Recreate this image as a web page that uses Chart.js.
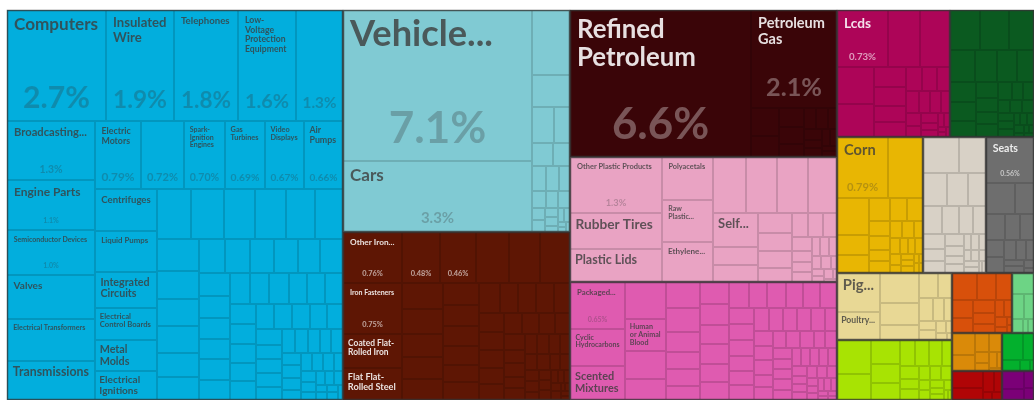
<!DOCTYPE html>
<html>
<head>
<meta charset="utf-8">
<script src="https://cdn.jsdelivr.net/npm/chart.js@4.4.1/dist/chart.umd.min.js"></script>
<style>
html,body{margin:0;padding:0;background:#fff;}
#wrap{width:1034px;height:400px;}
</style>
</head>
<body>
<div id="wrap"><canvas id="c" width="1034" height="400"></canvas></div>
<script>
// ---------- DATA (share of total, %) ----------
const sectorNames = ['Machines','Transportation','Metals','Mineral Products','Plastics and Rubbers','Chemical Products','Instruments','Textiles','Vegetable Products','Stone and Glass','Miscellaneous','Animal Products','Foodstuffs','Wood Products','Paper Goods','Footwear and Headwear','Arms and Ammunition','Animal Hides','Precious Metals'];
const sectorColors = ['#02aedd','#80cad3','#5e1604','#3a0508','#e9a3c3','#df5bb0','#ad0558','#0b5a20','#e8b603','#d8d1c6','#6e6e6e','#e8d895','#a8e303','#d8500b','#6dd485','#da8a09','#b00506','#03b02d','#7b0077'];

const machines = [2.74,1.88,1.78,1.60,1.30,1.30,1.10,1.00,0.96,0.92,0.86,0.79,0.72,0.70,0.69,0.67,0.66,0.64,0.63,0.55,0.50,0.48,0.44,0.43,0.42,0.39,0.38,0.37,0.35,0.33,0.30,0.28,0.28,0.26,0.24,0.22,0.21,0.21,0.20,0.19,0.19,0.18,0.17,0.17,0.16,0.16,0.16,0.15,0.15,0.15,0.14,0.14,0.14,0.13,0.13,0.12,0.12,0.12,0.11,0.11,0.11,0.10,0.10,0.10,0.09,0.09,0.09,0.08,0.08,0.08,0.07,0.07,0.07,0.06,0.06,0.06,0.05,0.05,0.05,0.05,0.04,0.04,0.04,0.03,0.03,0.03,0.03,0.02,0.02,0.02,0.02,0.02];
const machinesLabels = ['Computers','Insulated Wire','Telephones','Low-Voltage Protection Equipment','','Broadcasting...','Engine Parts','Semiconductor Devices','Valves','Electrical Transformers','Transmissions','Electric Motors','','Spark-Ignition Engines','Gas Turbines','Video Displays','Air Pumps','Centrifuges','Liquid Pumps','Integrated Circuits','Electrical Control Boards','Metal Molds','Electrical Ignitions'];

const transport = [7.14,3.34,0.62,0.31,0.20,0.14,0.12,0.10,0.09,0.08,0.07,0.06,0.05,0.05,0.04,0.04,0.03,0.03,0.02,0.02,0.02,0.01,0.01,0.01];
const transportLabels = ['Vehicle...','Cars'];

const metals = [0.76,0.75,0.52,0.47,0.48,0.46,0.41,0.40,0.38,0.26,0.25,0.24,0.22,0.21,0.20,0.19,0.18,0.17,0.16,0.16,0.15,0.14,0.13,0.13,0.12,0.12,0.11,0.11,0.10,0.10,0.10,0.09,0.09,0.08,0.08,0.07,0.07,0.06,0.06,0.06,0.06,0.05,0.05,0.05,0.05,0.04,0.04,0.04,0.04,0.03,0.03,0.03,0.03,0.02,0.02,0.02,0.02,0.02,0.01,0.01,0.01,0.01];
const metalsLabels = ['Other Iron...','Iron Fasteners','Coated Flat-Rolled Iron','Flat Flat-Rolled Steel','',''];

const mineral = [6.64,2.10,0.20,0.15,0.12,0.10,0.08,0.07,0.06,0.05,0.05,0.04,0.04,0.03,0.03,0.02,0.02];
const mineralLabels = ['Refined Petroleum','Petroleum Gas'];

const plastics = [1.29,0.83,0.76,0.55,0.53,0.51,0.46,0.44,0.42,0.41,0.38,0.20,0.19,0.17,0.15,0.14,0.12,0.10,0.09,0.08,0.07,0.06,0.05,0.05,0.04,0.04,0.04,0.03,0.03,0.02,0.02,0.02,0.02,0.01,0.01];
const plasticsLabels = ['Other Plastic Products','Rubber Tires','Plastic Lids','Polyacetals','Raw Plastic...','Ethylene...','','','','','Self...'];

const chemicals = [0.654,0.50,0.47,0.38,0.33,0.28,0.22,0.22,0.20,0.17,0.15,0.14,0.12,0.16,0.15,0.14,0.14,0.13,0.13,0.13,0.12,0.12,0.11,0.11,0.11,0.10,0.10,0.10,0.09,0.09,0.09,0.09,0.08,0.08,0.08,0.08,0.07,0.07,0.07,0.07,0.06,0.06,0.06,0.06,0.06,0.05,0.05,0.05,0.05,0.05,0.05,0.05,0.04,0.04,0.04,0.04,0.04,0.036,0.03,0.03,0.03,0.03,0.03,0.03,0.02,0.02,0.02,0.02,0.02,0.02,0.01,0.01,0.01,0.01];
const chemicalsLabels = ['Packaged...','Cyclic Hydrocarbons','Scented Mixtures','','Human or Animal Blood'];

const instruments = [0.73,0.45,0.43,0.34,0.30,0.16,0.15,0.13,0.12,0.10,0.09,0.08,0.07,0.06,0.06,0.05,0.05,0.04,0.04,0.03,0.03,0.02,0.02,0.01,0.01,0.01];
const instrumentsLabels = ['Lcds'];

const textiles = [0.30,0.28,0.25,0.20,0.18,0.16,0.14,0.13,0.12,0.10,0.09,0.08,0.07,0.07,0.06,0.05,0.05,0.04,0.04,0.04,0.03,0.03,0.03,0.02,0.02,0.02,0.02,0.01,0.01,0.01,0.01];
const vegetable = [0.79,0.53,0.30,0.16,0.14,0.12,0.10,0.09,0.08,0.07,0.06,0.06,0.05,0.05,0.04,0.04,0.03,0.03,0.03,0.03,0.02,0.02,0.02,0.02,0.01,0.01,0.01,0.01];
const vegetableLabels = ['Corn'];
const stone = [0.33,0.24,0.20,0.17,0.15,0.13,0.12,0.10,0.09,0.08,0.07,0.06,0.06,0.05,0.04,0.04,0.03,0.03,0.03,0.02,0.02,0.02,0.02,0.02,0.01,0.01];
const misc = [0.56,0.22,0.15,0.12,0.10,0.09,0.08,0.07,0.06,0.05,0.04,0.03,0.03,0.02,0.01];
const miscLabels = ['Seats'];
const animal = [0.42,0.30,0.30,0.22,0.14,0.12,0.09,0.08,0.06,0.05,0.04,0.04,0.03,0.02,0.02,0.01];
const animalLabels = ['Pig...','Poultry...'];
const foodstuffs = [0.30,0.22,0.17,0.14,0.12,0.10,0.09,0.08,0.07,0.06,0.05,0.05,0.04,0.04,0.04,0.03,0.03,0.03,0.02,0.02,0.02,0.01,0.01];
const wood = [0.17,0.13,0.11,0.09,0.08,0.07,0.06,0.05,0.04,0.03,0.03,0.02,0.01,0.01];
const paper = [0.12,0.08,0.06,0.04,0.02,0.02];
const footwear = [0.12,0.09,0.07,0.06,0.04,0.03,0.03,0.02,0.01];
const arms = [0.13,0.09,0.06,0.04,0.02,0.02];
const hides = [0.14,0.07,0.05,0.03,0.01];
const precious = [0.10,0.06,0.04,0.03];

const sectorValues = [machines,transport,metals,mineral,plastics,chemicals,instruments,textiles,vegetable,stone,misc,animal,foodstuffs,wood,paper,footwear,arms,hides,precious];
const sectorLabels = [machinesLabels,transportLabels,metalsLabels,mineralLabels,plasticsLabels,chemicalsLabels,instrumentsLabels,[],vegetableLabels,[],miscLabels,animalLabels,[],[],[],[],[],[],[]];

// ---------- flatten ----------
const leafValues = [], leafNames = [], leafGroup = [], leafListed = [];
const groupsSpec = sectorValues.map((vals, gi) => {
  const start = leafValues.length;
  vals.forEach((v, k) => {
    leafValues.push(v);
    leafNames.push(sectorLabels[gi][k] || '');
    leafListed.push(k < sectorLabels[gi].length);
    leafGroup.push(gi);
  });
  return { start, values: vals };
});

function hexRgb(h){ return [parseInt(h.slice(1,3),16),parseInt(h.slice(3,5),16),parseInt(h.slice(5,7),16)]; }
function darken(h, f){ const c = hexRgb(h); return 'rgb(' + c.map(v => Math.round(v*f)).join(',') + ')'; }
function isDark(h){ const c = hexRgb(h); return (0.299*c[0]+0.587*c[1]+0.114*c[2]) < 116; }

// ---------- squarified layout (d3 algorithm) ----------
function squarify(nodes, x0, y0, x1, y1) {
  const ratio = (1 + Math.sqrt(5)) / 2;
  const out = [];
  let value = nodes.reduce((a, n) => a + n.value, 0);
  let i0 = 0, i1 = 0; const n = nodes.length;
  while (i0 < n) {
    const dx = x1 - x0, dy = y1 - y0;
    let sumValue = nodes[i1++].value;
    let minValue = sumValue, maxValue = sumValue;
    const alpha = Math.max(dy / dx, dx / dy) / (value * ratio);
    let beta = sumValue * sumValue * alpha;
    let minRatio = Math.max(maxValue / beta, beta / minValue);
    for (; i1 < n; ++i1) {
      const nv = nodes[i1].value;
      sumValue += nv;
      if (nv < minValue) minValue = nv;
      if (nv > maxValue) maxValue = nv;
      beta = sumValue * sumValue * alpha;
      const newRatio = Math.max(maxValue / beta, beta / minValue);
      if (newRatio > minRatio) { sumValue -= nv; break; }
      minRatio = newRatio;
    }
    const row = nodes.slice(i0, i1);
    const last = i1 >= n;
    if (dx < dy) {
      const yb = last ? y1 : y0 + dy * sumValue / value;
      let x = x0;
      row.forEach((nd, k) => { const xe = k === row.length - 1 ? x1 : x + dx * nd.value / sumValue; out.push({node: nd, x0: x, y0: y0, x1: xe, y1: yb}); x = xe; });
      y0 = yb;
    } else {
      const xb = last ? x1 : x0 + dx * sumValue / value;
      let y = y0;
      row.forEach((nd, k) => { const ye = k === row.length - 1 ? y1 : y + dy * nd.value / sumValue; out.push({node: nd, x0: x0, y0: y, x1: xb, y1: ye}); y = ye; });
      x0 = xb;
    }
    value -= sumValue; i0 = i1;
  }
  return out;
}

// ---------- Chart.js treemap controller using BarElement rectangles ----------
class TreemapController extends Chart.DatasetController {
  static id = 'treemap';
  static defaults = { datasetElementType: false, dataElementType: 'bar' };
  static overrides = { scales: { x: { type: 'linear' }, y: { type: 'linear' } } };
  update(mode) {
    const meta = this._cachedMeta;
    const ds = this.getDataset();
    const xs = meta.xScale, ys = meta.yScale;
    const W = xs.width, H = ys.height;
    const gNodes = ds.groups.map((g, gi) => ({ value: g.values.reduce((a, b) => a + b, 0), gi }));
    const rects = [];
    squarify(gNodes, 0, 0, W, H).forEach(gr => {
      const g = ds.groups[gr.node.gi];
      const leaves = g.values.map((v, k) => ({ value: v, idx: g.start + k }));
      squarify(leaves, gr.x0, gr.y0, gr.x1, gr.y1).forEach(lr => { rects[lr.node.idx] = lr; });
    });
    for (let i = 0; i < meta.data.length; i++) {
      const r = rects[i];
      const px0 = Math.round(xs.getPixelForValue(r.x0 / W)), px1 = Math.round(xs.getPixelForValue(r.x1 / W));
      const py0 = Math.round(ys.getPixelForValue(r.y0 / H)), py1 = Math.round(ys.getPixelForValue(r.y1 / H));
      this.updateElement(meta.data[i], i, {
        x: (px0 + px1) / 2, y: Math.min(py0, py1), base: Math.max(py0, py1),
        width: Math.abs(px1 - px0), height: Math.abs(py1 - py0),
        horizontal: false, inflateAmount: 0, enableBorderRadius: false,
        borderSkipped: { top: false, bottom: false, left: false, right: false },
        options: this.resolveDataElementOptions(i, mode)
      }, 'none');
    }
  }
}
Chart.register(TreemapController);

// ---------- labels ----------
const FONT = 'Lato, "Open Sans", sans-serif';
const MIN_FS = 7;
function tokens(text){ return text.match(/[^\s-]+-?/g) || []; }
function wrap(ctx, text, maxW) {
  const toks = tokens(text); const lines = []; let cur = '';
  toks.forEach(t => {
    const joined = cur ? (cur.endsWith('-') ? cur + t : cur + ' ' + t) : t;
    if (!cur || ctx.measureText(joined).width <= maxW) cur = joined; else { lines.push(cur); cur = t; }
  });
  if (cur) lines.push(cur);
  return lines;
}
function fitTitle(ctx, text, bw, bh, fsMax) {
  for (let fs = fsMax; fs >= MIN_FS; fs -= 0.5) {
    ctx.font = '700 ' + fs + 'px ' + FONT;
    const lines = wrap(ctx, text, bw);
    const wmax = Math.max.apply(null, lines.map(l => ctx.measureText(l).width));
    if (wmax <= bw && lines.length * fs * 1.1 <= bh) return { fs, lines };
  }
  ctx.font = '700 ' + MIN_FS + 'px ' + FONT;
  return { fs: MIN_FS, lines: wrap(ctx, text, bw) };
}
function shareText(v){ return (v >= 1 ? v.toFixed(1) : v.toFixed(2)) + '%'; }

const labelPlugin = {
  id: 'treemapLabels',
  afterDatasetsDraw(chart) {
    const ctx = chart.ctx;
    const meta = chart.getDatasetMeta(0);
    const boxes = meta.data.map(el => ({ x: el.x - el.width / 2, y: el.y, w: el.width, h: el.base - el.y }));
    ctx.save();
    groupsSpec.forEach((g) => {
      let a = Infinity, b = Infinity, c = -Infinity, d = -Infinity;
      for (let k = 0; k < g.values.length; k++) {
        const bx = boxes[g.start + k];
        a = Math.min(a, bx.x); b = Math.min(b, bx.y); c = Math.max(c, bx.x + bx.w); d = Math.max(d, bx.y + bx.h);
      }
      ctx.strokeStyle = 'rgba(55,55,55,0.75)';
      ctx.lineWidth = 1.5;
      ctx.strokeRect(a + 0.5, b + 0.5, c - a - 1, d - b - 1);
    });
    boxes.forEach((bx, i) => {
      const { x, y, w, h } = bx;
      const name = leafNames[i];
      if (!leafListed[i]) return;
      const light = isDark(sectorColors[leafGroup[i]]);
      const reserve = h >= 40;
      const showShare = h >= 45 && w >= 34;
      const pad = Math.max(3, Math.min(7, w * 0.14, h * 0.15));
      const share = shareText(leafValues[i]);
      let sf = 0, gap = 0;
      if (showShare) {
        sf = Math.min(44, Math.max(7, 0.38 * h - 12));
        ctx.font = '700 ' + sf + 'px ' + FONT;
        const tw = ctx.measureText(share).width;
        if (tw > w - 2 * pad) sf = sf * (w - 2 * pad) / tw;
        gap = Math.max(7, 0.12 * h);
      }
      if (name) {
        const bw = w - 2 * pad;
        const bh = reserve ? 0.2 * h + 0.0013 * h * h : h - 1.4 * pad;
        const cap = Math.min(40, reserve ? 0.24 * h : 0.38 * h);
        const fit = fitTitle(ctx, name, bw, bh, Math.max(MIN_FS, cap));
        ctx.font = '700 ' + fit.fs + 'px ' + FONT;
        ctx.textBaseline = 'top';
        ctx.textAlign = 'left';
        ctx.fillStyle = light ? 'rgba(255,255,255,0.88)' : 'rgba(60,60,60,0.8)';
        fit.lines.forEach((ln, k) => ctx.fillText(ln, x + pad, y + pad * 0.9 + k * fit.fs * 1.1));
      }
      if (showShare && sf >= 6) {
        ctx.font = '700 ' + sf + 'px ' + FONT;
        ctx.textBaseline = 'alphabetic';
        ctx.textAlign = 'center';
        ctx.fillStyle = light ? (sf >= 18 ? 'rgba(255,255,255,0.32)' : 'rgba(255,255,255,0.6)') : 'rgba(50,50,50,0.28)';
        ctx.fillText(share, x + w / 2, y + h - gap);
      }
    });
    ctx.restore();
  }
};

new Chart(document.getElementById('c'), {
  type: 'treemap',
  data: {
    datasets: [{
      label: 'Share',
      data: leafValues,
      groups: groupsSpec,
      backgroundColor: c => sectorColors[leafGroup[c.dataIndex]],
      borderColor: c => darken(sectorColors[leafGroup[c.dataIndex]], 0.86),
      borderWidth: 1,
      borderRadius: 0
    }]
  },
  options: {
    responsive: false,
    animation: false,
    events: [],
    devicePixelRatio: 1,
    layout: { padding: { left: 7, top: 10, right: 0, bottom: 0 } },
    scales: {
      x: { type: 'linear', min: 0, max: 1, display: false },
      y: { type: 'linear', min: 0, max: 1, reverse: true, display: false }
    },
    plugins: { legend: { display: false }, tooltip: { enabled: false } }
  },
  plugins: [labelPlugin]
});
</script>
</body>
</html>
